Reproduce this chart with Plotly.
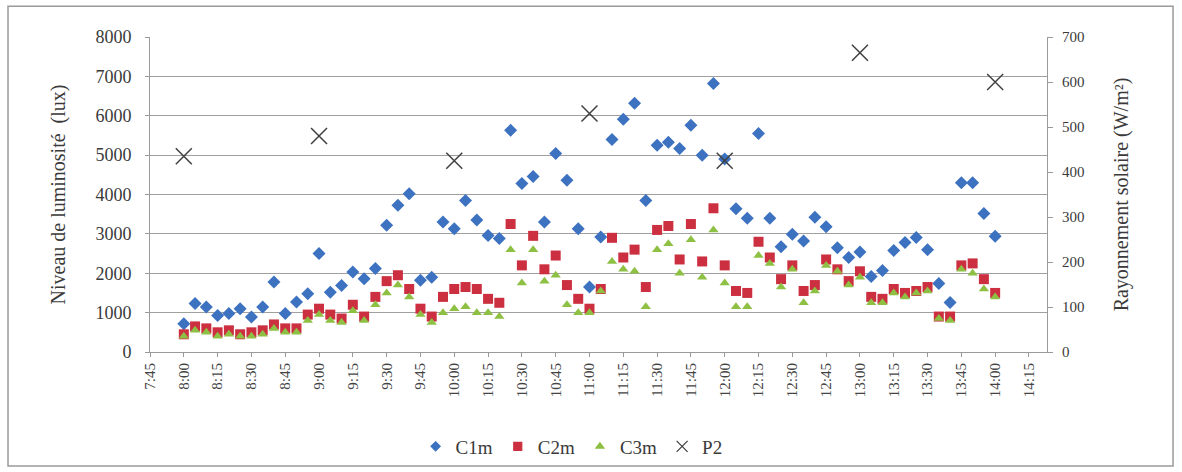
import plotly.graph_objects as go

# Time stamps (every 5 minutes from 8:00 to 14:00)
start_h, start_m = 8, 0
times = []
for k in range(73):
    tot = start_h * 60 + start_m + 5 * k
    times.append(f"2024-01-01 {tot // 60:02d}:{tot % 60:02d}")

c1m = [720, 1230, 1140, 930, 975, 1100, 890, 1140, 1780, 975, 1270, 1480,
       2500, 1520, 1690, 2030, 1860, 2120, 3220, 3730, 4020, 1820, 1900, 3300,
       3130, 3850, 3350, 2960, 2880, 5630, 4280, 4460, 3300, 5040, 4360, 3130,
       1650, 2920, 5400, 5910, 6320, 3850, 5250, 5330, 5170, 5760, 5000, 6820,
       4900, 3640, 3400, 5550, 3400, 2670, 2990, 2820, 3420, 3180, 2650, 2400,
       2540, 1920, 2070, 2580, 2780, 2910, 2600, 1740, 1260, 4300, 4300, 3520,
       2940]
c2m = [450, 650, 600, 500, 550, 450, 500, 550, 700, 600, 600, 950,
       1100, 950, 850, 1200, 900, 1400, 1800, 1950, 1600, 1100, 900, 1400,
       1600, 1650, 1600, 1350, 1250, 3250, 2200, 2950, 2100, 2450, 1700, 1350,
       1100, 1600, 2900, 2400, 2600, 1650, 3100, 3200, 2350, 3250, 2300, 3650,
       2200, 1550, 1500, 2800, 2400, 1850, 2200, 1550, 1700, 2350, 2100, 1800,
       2050, 1400, 1350, 1600, 1500, 1550, 1650, 900, 900, 2200, 2250, 1850,
       1500]
c3m = [400, 550, 500, 400, 450, 400, 400, 450, 600, 500, 500, 800,
       950, 800, 750, 1050, 800, 1200, 1500, 1700, 1400, 950, 750, 1000,
       1100, 1150, 1000, 1000, 900, 2600, 1750, 2600, 1800, 1950, 1200, 1000,
       1000, 1550, 2300, 2100, 2050, 1150, 2600, 2750, 2000, 2850, 1900, 3100,
       1750, 1150, 1150, 2450, 2250, 1650, 2100, 1250, 1550, 2200, 2050, 1700,
       1900, 1250, 1250, 1500, 1400, 1500, 1550, 850, 800, 2100, 2000, 1600,
       1400]
p2_times = ["2024-01-01 08:00", "2024-01-01 09:00", "2024-01-01 10:00",
            "2024-01-01 11:00", "2024-01-01 12:00", "2024-01-01 13:00",
            "2024-01-01 14:00"]
p2 = [435, 480, 425, 530, 425, 665, 600]

names = ["C1m", "C2m", "C3m", "P2"]
colors = ["#3d72c0", "#cc3040", "#8dc043", "#404040"]

serif = "Liberation Serif, Times New Roman, serif"
txt = "#3a3a3a"

fig = go.Figure()
fig.add_trace(go.Scatter(x=times, y=c1m, mode="markers", name=names[0], showlegend=False,
                         marker=dict(symbol="diamond", size=10, color=colors[0],
                                     line=dict(width=0))))
fig.add_trace(go.Scatter(x=times, y=c2m, mode="markers", name=names[1], showlegend=False,
                         marker=dict(symbol="square", size=10, color=colors[1],
                                     line=dict(width=0))))
fig.add_trace(go.Scatter(x=times, y=c3m, mode="markers", name=names[2], showlegend=False,
                         marker=dict(symbol="triangle-up", size=9, color=colors[2],
                                     line=dict(width=0))))
fig.add_trace(go.Scatter(x=p2_times, y=p2, mode="markers", name=names[3], yaxis="y2",
                         showlegend=False,
                         marker=dict(symbol="x-thin-open", size=16, color=colors[3],
                                     line=dict(width=1.5, color=colors[3]))))

# legend-only entries with smaller symbols, as in the reference
leg_symbols = ["diamond", "square", "triangle-up", "x-thin-open"]
leg_sizes = [7, 8, 7, 11]
for nm, sym, sz, col in zip(names, leg_symbols, leg_sizes, colors):
    fig.add_trace(go.Scatter(x=[None], y=[None], mode="markers", name=nm,
                             marker=dict(symbol=sym, size=sz, color=col,
                                         line=dict(width=1.2, color=col))))

fig.update_layout(
    width=1182, height=472,
    margin=dict(l=150, r=135, t=37, b=120, autoexpand=False),
    paper_bgcolor="white", plot_bgcolor="white",
    font=dict(family=serif, color=txt, size=14),
    xaxis=dict(type="date", automargin=False,
               range=["2024-01-01 07:45", "2024-01-01 14:23"],
               tick0="2024-01-01 07:45", dtick=900000,
               tickformat="%-H:%M", tickangle=-90,
               showgrid=False, showline=True, linecolor="#9a9a9a", linewidth=1,
               ticks="outside", ticklen=4, tickcolor="#9a9a9a",
               tickfont=dict(size=15, family=serif, color="#444444")),
    yaxis=dict(range=[0, 8000], dtick=1000, showgrid=True, gridcolor="#a0a0a0",
               automargin=False,
               gridwidth=1, showline=True, linecolor="#9a9a9a", linewidth=1,
               ticks="outside", ticklen=4, tickcolor="#9a9a9a", zeroline=False,
               ticklabelstandoff=10,
               tickfont=dict(size=18, family=serif, color=txt),
               title=dict(text="Niveau de luminosité  (lux)",
                          font=dict(size=20, family=serif, color=txt),
                          standoff=24)),
    yaxis2=dict(range=[0, 700], dtick=100, overlaying="y", side="right",
                automargin=False,
                showgrid=False, showline=True, linecolor="#9a9a9a", linewidth=1,
                ticks="outside", ticklen=5, tickcolor="#9a9a9a", zeroline=False,
                ticklabelstandoff=6,
                tickfont=dict(size=15, family=serif, color=txt),
                title=dict(text="Rayonnement solaire (W/m²)",
                           font=dict(size=20, family=serif, color=txt),
                           standoff=30)),
    legend=dict(orientation="h", x=0.47, xanchor="center", y=-0.30, yanchor="middle",
                font=dict(size=19, family=serif, color=txt),
                itemwidth=30, tracegroupgap=0, bgcolor="rgba(0,0,0,0)"),
    showlegend=True,
    shapes=[dict(type="rect", xref="paper", yref="paper",
                 x0=-0.1583, x1=1.1405, y0=-0.362, y1=1.098,
                 line=dict(color="#9a9a9a", width=1.5), fillcolor="rgba(0,0,0,0)",
                 layer="below")],
)

fig.write_html("out.html")
